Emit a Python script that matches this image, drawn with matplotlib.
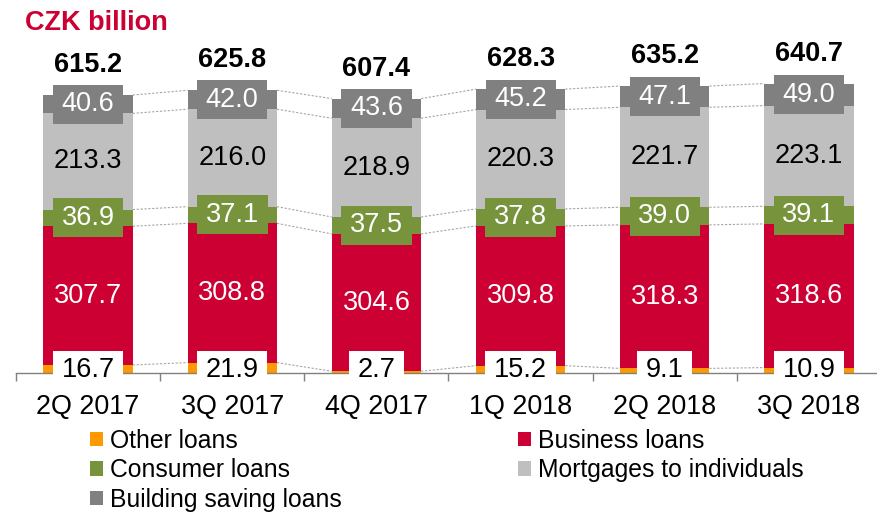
import matplotlib
matplotlib.use("Agg")
import matplotlib.pyplot as plt
from matplotlib.patches import Patch
import numpy as np

plt.rcParams['font.family'] = ['Liberation Sans', 'DejaVu Sans']

categories = ["2Q 2017", "3Q 2017", "4Q 2017", "1Q 2018", "2Q 2018", "3Q 2018"]
other = [16.7, 21.9, 2.7, 15.2, 9.1, 10.9]
business = [307.7, 308.8, 304.6, 309.8, 318.3, 318.6]
consumer = [36.9, 37.1, 37.5, 37.8, 39.0, 39.1]
mortgages = [213.3, 216.0, 218.9, 220.3, 221.7, 223.1]
building = [40.6, 42.0, 43.6, 45.2, 47.1, 49.0]
totals = [615.2, 625.8, 607.4, 628.3, 635.2, 640.7]

series = [
    ("Other loans", other, "#FF9900"),
    ("Business loans", business, "#CC0033"),
    ("Consumer loans", consumer, "#77933C"),
    ("Mortgages to individuals", mortgages, "#BFBFBF"),
    ("Building saving loans", building, "#808080"),
]

W, H = 877, 512
fig = plt.figure(figsize=(W / 100, H / 100), dpi=100)
ax = fig.add_axes([16 / W, (H - 372.5) / H, 865 / W, 315.7 / H])

x = np.arange(len(categories))
bw = 0.62
bottom = np.zeros(len(categories))
tops = []
for name, vals, col in series:
    v = np.array(vals)
    ax.bar(x, v, bw, bottom=bottom, color=col, edgecolor='none', zorder=2, label=name)
    bottom = bottom + v
    tops.append(bottom.copy())

# connector dotted lines
for t in tops:
    for i in range(len(categories) - 1):
        ax.plot([x[i] + bw / 2, x[i + 1] - bw / 2], [t[i], t[i + 1]],
                linestyle=(0, (2, 1.5)), color="#A6A6A6", lw=0.8, zorder=1)

fs = 19.5
base = np.zeros(len(categories))
for k, (name, vals, col) in enumerate(series):
    v = np.array(vals)
    for i in range(len(categories)):
        txt = f"{vals[i]:.1f}"
        if k == 0:
            ax.text(x[i], 5, txt, ha='center', va='center', fontsize=fs, color='black',
                    zorder=6, clip_on=False,
                    bbox=dict(boxstyle='square,pad=0.32', fc='white', ec='none',
                              mutation_aspect=0.7))
        elif k == 1:
            ax.text(x[i], base[i] + v[i] / 2, txt, ha='center', va='center',
                    fontsize=fs, color='white', zorder=5)
        elif k == 3:
            ax.text(x[i], base[i] + v[i] / 2, txt, ha='center', va='center',
                    fontsize=fs, color='black', zorder=5)
        else:
            ax.text(x[i], base[i] + v[i] / 2, txt, ha='center', va='center',
                    fontsize=fs, color='white', zorder=5,
                    bbox=dict(boxstyle='square,pad=0.32', fc=col, ec='none',
                              mutation_aspect=0.75))
    base = base + v

for i in range(len(categories)):
    ax.annotate(f"{totals[i]:.1f}", (x[i], tops[-1][i]), xytext=(0, 16.5),
                textcoords='offset points', ha='center', va='baseline',
                fontsize=fs, fontweight='bold', color='black', annotation_clip=False)

ax.set_xlim(-0.5, len(categories) - 0.5)
ax.set_ylim(0, 700)
for s in ['top', 'left', 'right']:
    ax.spines[s].set_visible(False)
ax.spines['bottom'].set_color('#808080')
ax.spines['bottom'].set_linewidth(1.0)
ax.set_yticks([])
ax.set_xticks(x)
ax.set_xticklabels(categories, fontsize=19.4)
ax.tick_params(axis='x', which='major', length=0, pad=15.5)
ax.set_xticks(np.arange(-0.5, len(categories), 1.0), minor=True)
ax.tick_params(axis='x', which='minor', length=6, width=1, color='#808080', direction='out')

fig.text(25 / W, 1 - 30 / H, "CZK billion", color="#CC0033", fontsize=19.5,
         fontweight='bold', ha='left', va='baseline')

def handles(idx):
    return [Patch(facecolor=series[j][2], edgecolor='none', label=series[j][0]) for j in idx]

lkw = dict(frameon=False, fontsize=17.8, handlelength=0.52, handleheight=0.52,
           handletextpad=0.28, labelspacing=0.22, borderpad=0, borderaxespad=0,
           loc='upper left')
fig.legend(handles=handles([0, 2, 4]), bbox_to_anchor=(90 / W, 1 - 429 / H), **lkw)
fig.legend(handles=handles([1, 3]), bbox_to_anchor=(518 / W, 1 - 429 / H), **lkw)

fig.savefig("out.png", dpi=100)
